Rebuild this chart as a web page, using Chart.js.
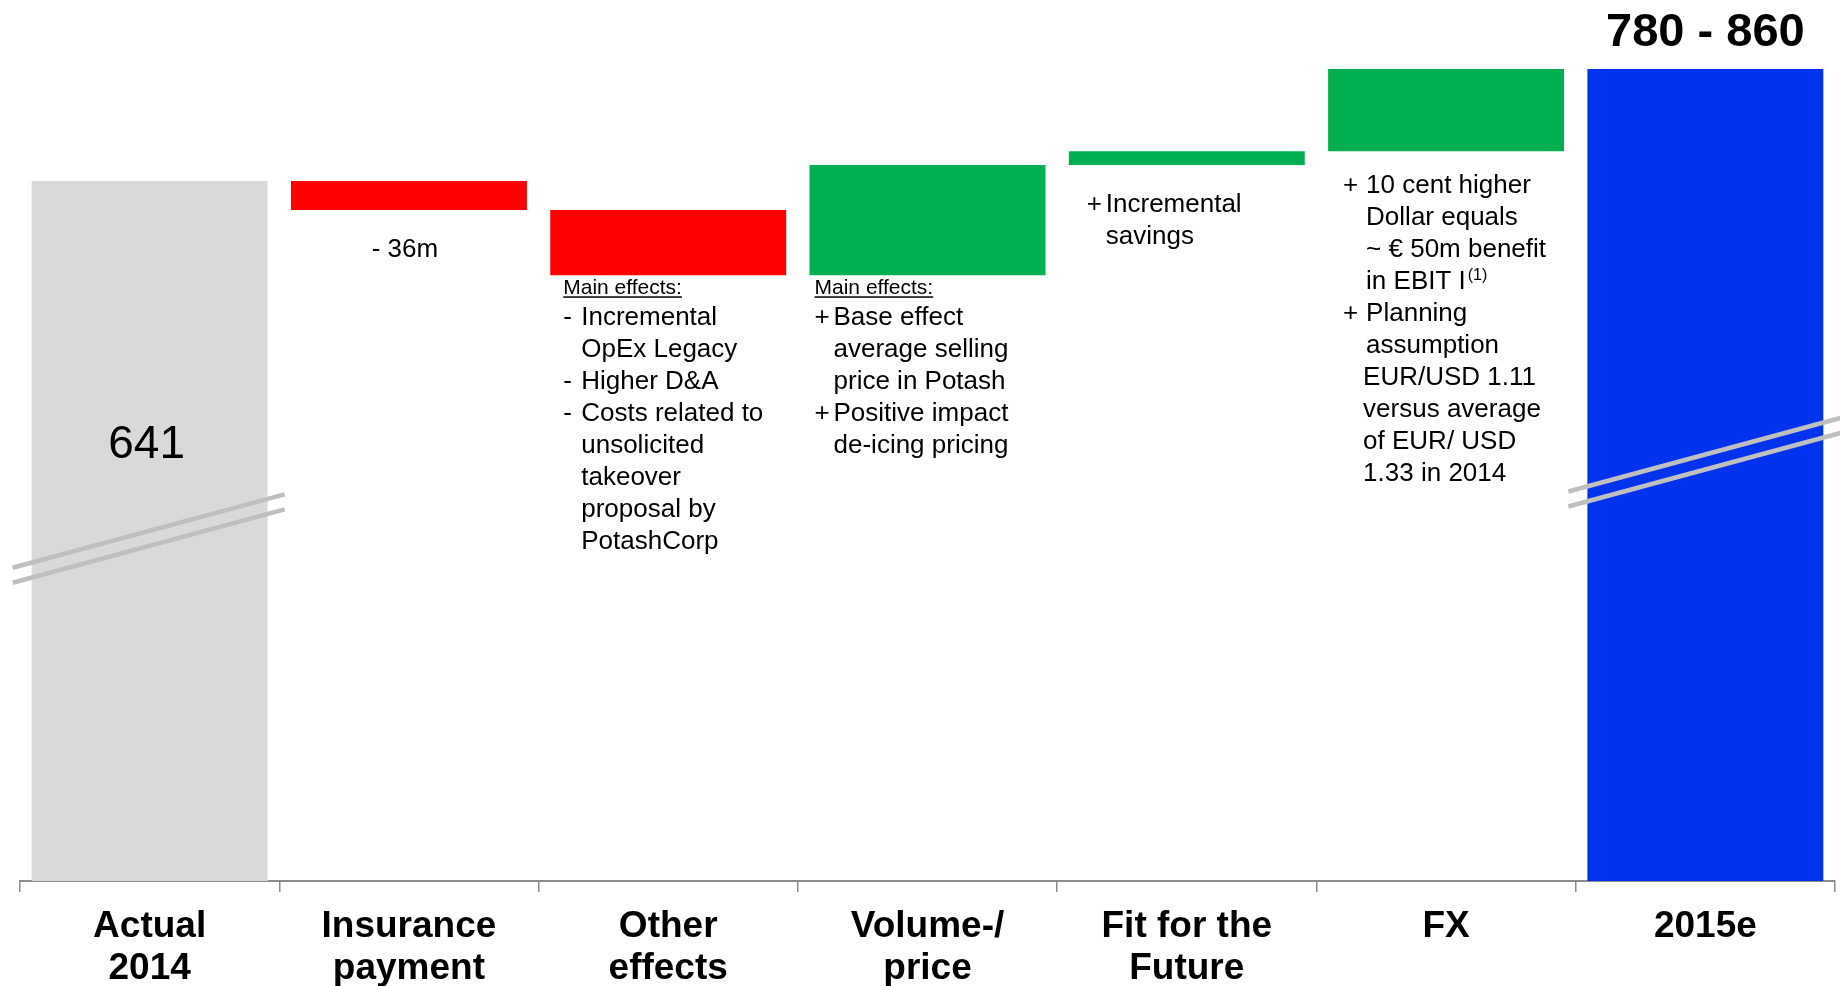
<!DOCTYPE html>
<html>
<head>
<meta charset="utf-8">
<title>EBIT I bridge 2014 - 2015e</title>
<script src="https://cdn.jsdelivr.net/npm/chart.js@4.4.1/dist/chart.umd.min.js"></script>
<style>
  html, body { margin: 0; padding: 0; background: #fff; }
  canvas { display: block; }
</style>
</head>
<body>
<canvas id="bridge" width="1840" height="986"></canvas>
<script>
// EBIT I bridge, € million
const categories = [['Actual', '2014'], ['Insurance', 'payment'], ['Other', 'effects'], ['Volume-/', 'price'], ['Fit for the', 'Future'], ['FX'], ['2015e']];
const startValue = 641;
const deltaValues = [-36, -81, 137, 17, 102];
const endValue = 780;              // low end of the outlook range
const startLabel = '641';
const deltaLabel = '- 36m';
const endLabel = '780 - 860';

// value axis is cut (break marks on both totals), so it does not start at zero
const axisMin = -228;
const axisMax = 800;

// [bullet, text, superscript, extra x shift]
const otherNotes = [['-', 'Incremental'], ['', 'OpEx Legacy'], ['-', 'Higher D&A'], ['-', 'Costs related to'], ['', 'unsolicited'], ['', 'takeover'], ['', 'proposal by'], ['', 'PotashCorp']];
const volumeNotes = [['+', 'Base effect'], ['', 'average selling'], ['', 'price in Potash'], ['+', 'Positive impact'], ['', 'de-icing pricing']];
const fitNotes = [['+', 'Incremental'], ['', 'savings']];
const fxNotes = [['+', '10 cent higher'], ['', 'Dollar equals'], ['', '~ € 50m benefit'], ['', 'in EBIT I', '(1)'], ['+', 'Planning'], ['', 'assumption'], ['', 'EUR/USD 1.11', '', -3], ['', 'versus average', '', -3], ['', 'of EUR/ USD', '', -3], ['', '1.33 in 2014', '', -3]];

const FONT = "'Liberation Sans', Arial, sans-serif";

// floating bars: totals stand on the axis floor, deltas hang from the running total
const barData = [[axisMin, startValue]];
let running = startValue;
deltaValues.forEach(d => {
    barData.push([running, running + d]);
    running += d;
});
barData.push([axisMin, endValue]);

const barColors = ['#D9D9D9', ...deltaValues.map(d => d < 0 ? '#FF0000' : '#00B050'), '#0033EE'];

function barBox(bar) {
    return {
        left: bar.x - bar.width / 2,
        right: bar.x + bar.width / 2,
        top: Math.min(bar.y, bar.base),
        bottom: Math.max(bar.y, bar.base)
    };
}

// double slash across the two totals
const breakMarks = {
    id: 'breakMarks',
    afterDatasetsDraw(chart) {
        const ctx = chart.ctx;
        const bars = chart.getDatasetMeta(0).data;
        ctx.save();
        ctx.strokeStyle = '#BFBFBF';
        ctx.lineWidth = 4.5;
        [[0, 0.5], [bars.length - 1, 0.475]].forEach(([i, at]) => {
            const b = barBox(bars[i]);
            const x0 = b.left - 19;
            const x1 = b.right + 17;
            const yc = b.top + (b.bottom - b.top) * at;
            const rise = (x1 - x0) * 0.135;
            [0, 15].forEach(off => {
                ctx.beginPath();
                ctx.moveTo(x0, yc + rise + off);
                ctx.lineTo(x1, yc - rise + off);
                ctx.stroke();
            });
        });
        ctx.restore();
    }
};

function drawLines(ctx, lines, bulletX, textX, firstBaseline, step) {
    ctx.font = `26px ${FONT}`;
    lines.forEach(([bullet, text, sup, dx = 0], i) => {
        const y = firstBaseline + i * step;
        if (bullet) ctx.fillText(bullet, bulletX, y);
        ctx.fillText(text, textX + dx, y);
        if (sup) {
            const w = ctx.measureText(text).width;
            ctx.font = `16px ${FONT}`;
            ctx.fillText(sup, textX + dx + w + 2, y - 9);
            ctx.font = `26px ${FONT}`;
        }
    });
}

function drawHeader(ctx, text, x, y) {
    ctx.font = `21px ${FONT}`;
    ctx.fillText(text, x, y);
    const w = ctx.measureText(text).width;
    ctx.fillRect(x, y + 2, w, 1.5);
}

const notes = {
    id: 'notes',
    afterDatasetsDraw(chart) {
        const ctx = chart.ctx;
        const bars = chart.getDatasetMeta(0).data.map(barBox);
        const centers = chart.getDatasetMeta(0).data.map(b => b.x);
        ctx.save();
        ctx.fillStyle = '#000';
        ctx.textBaseline = 'alphabetic';

        ctx.textAlign = 'center';
        ctx.font = `bold 47px ${FONT}`;
        ctx.fillText(endLabel, centers[6], bars[6].top - 23);
        ctx.font = `46px ${FONT}`;
        ctx.fillText(startLabel, centers[0] - 3, bars[0].top + 277);
        ctx.font = `26px ${FONT}`;
        ctx.fillText(deltaLabel, centers[1] - 4, bars[1].bottom + 47);

        ctx.textAlign = 'left';
        // Other effects
        drawHeader(ctx, 'Main effects:', bars[2].left + 13, bars[2].bottom + 19);
        drawLines(ctx, otherNotes, bars[2].left + 13, bars[2].left + 31, bars[2].bottom + 50, 31.9);
        // Volume-/price
        drawHeader(ctx, 'Main effects:', bars[3].left + 5, bars[3].bottom + 19);
        drawLines(ctx, volumeNotes, bars[3].left + 5, bars[3].left + 24, bars[3].bottom + 50, 31.9);
        // Fit for the Future
        drawLines(ctx, fitNotes, bars[4].left + 18, bars[4].left + 37, bars[4].bottom + 47, 31.7);
        // FX
        drawLines(ctx, fxNotes, bars[5].left + 15, bars[5].left + 38, bars[5].bottom + 42, 31.95);
        ctx.restore();
    }
};

new Chart(document.getElementById('bridge'), {
    type: 'bar',
    data: {
        labels: categories,
        datasets: [{
            data: barData,
            backgroundColor: barColors,
            borderWidth: 0,
            barPercentage: 1,
            categoryPercentage: 0.91
        }]
    },
    options: {
        responsive: false,
        animation: false,
        devicePixelRatio: 1,
        layout: { padding: { left: 20, right: 5, top: 53, bottom: 0 } },
        plugins: {
            legend: { display: false },
            tooltip: { enabled: false }
        },
        scales: {
            x: {
                offset: true,
                grid: {
                    offset: true,
                    drawOnChartArea: false,
                    drawTicks: true,
                    tickLength: 11,
                    color: '#8C8C8C',
                    lineWidth: 1.5
                },
                border: { display: true, color: '#8C8C8C', width: 2 },
                ticks: {
                    color: '#000',
                    autoSkip: false,
                    maxRotation: 0,
                    minRotation: 0,
                    padding: 14,
                    font: { family: FONT, size: 37, weight: 'bold', lineHeight: 1.127 }
                },
                afterFit: scale => { scale.height = 105; }
            },
            y: {
                display: false,
                min: axisMin,
                max: axisMax
            }
        }
    },
    plugins: [breakMarks, notes]
});
</script>
</body>
</html>
